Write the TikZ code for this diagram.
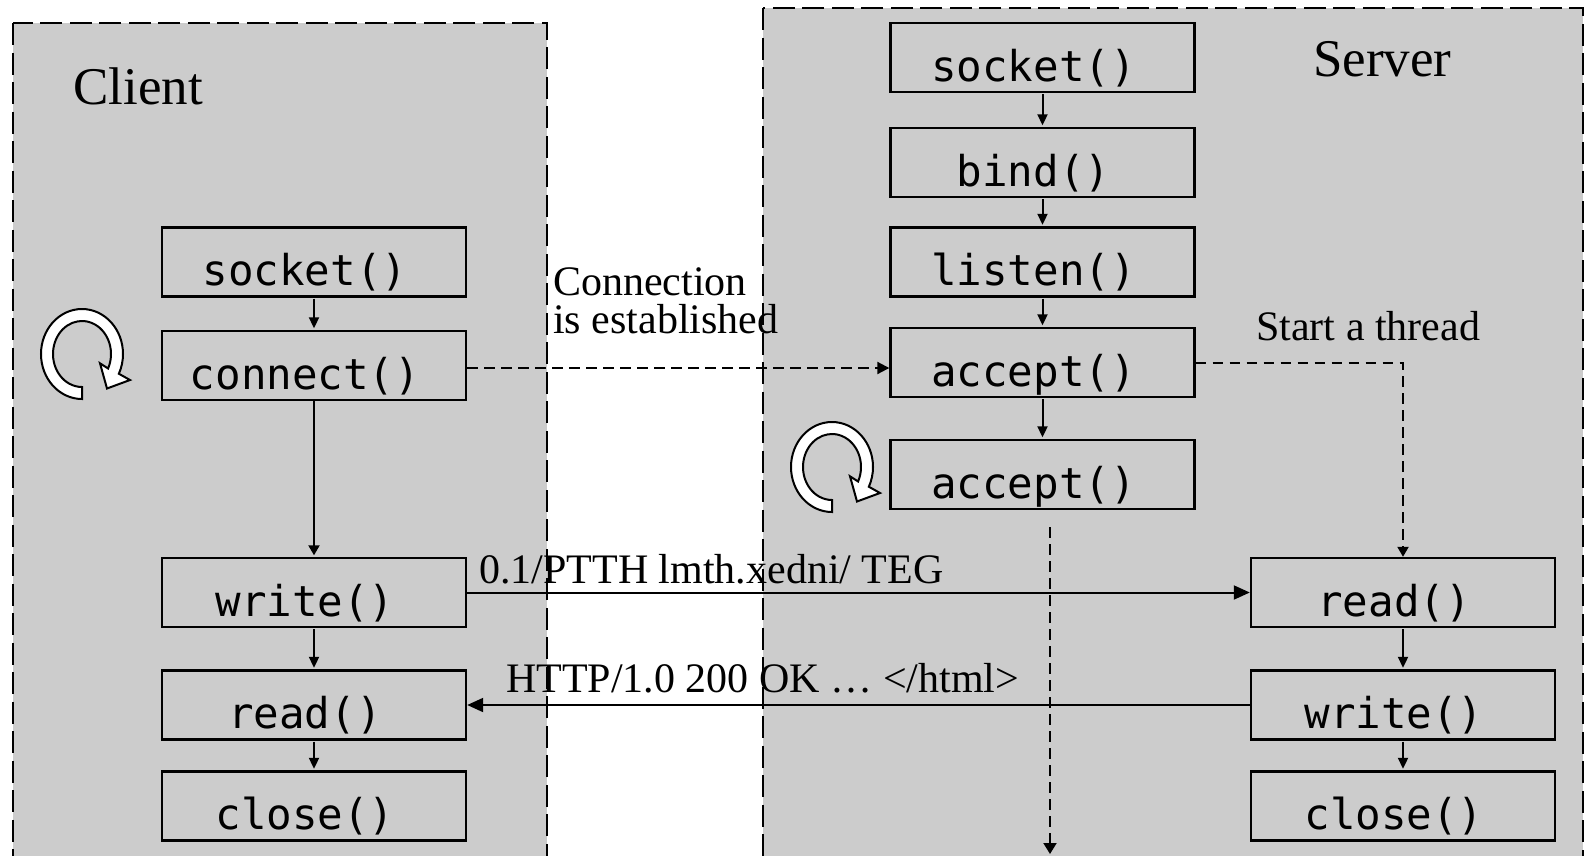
\documentclass[tikz,border=0pt]{standalone}
\usepackage{fontspec}
\setmainfont{Liberation Serif}
\newfontfamily\codefont{DejaVu Sans Mono}
\usetikzlibrary{arrows.meta}
\definecolor{panelgray}{RGB}{204,204,204}

\tikzset{
  panel/.style={fill=panelgray, draw=black, line width=2.8pt, dash pattern=on 22pt off 7.5pt},
  callbox/.style={draw=black, line width=2.4pt, minimum width=304pt, minimum height=69pt,
    inner sep=0pt, text height=58pt, text depth=11pt,
    font=\codefont\fontsize{42.5}{42.5}\selectfont,
    execute at end node={\hspace*{18pt}}},
  title/.style={anchor=base west, inner sep=0pt, font=\fontsize{53}{53}\selectfont},
  note/.style={anchor=base west, inner sep=0pt, font=\fontsize{42}{42}\selectfont},
  conn/.style={draw=black, line width=2pt},
  dconn/.style={draw=black, line width=2pt, dash pattern=on 10.5pt off 6.5pt},
  smalltip/.style={-{Triangle[length=11pt,width=10pt]}, shorten <=1pt, shorten >=1.5pt},
  bigtip/.style={-{Triangle[length=16pt,width=14pt]}},
  pics/loopsign/.style={code={
    \draw[line width=2pt, fill=white, line join=miter]
      (90:41 and 45) arc[start angle=90, end angle=386, x radius=41, y radius=45]
      -- (48,26) -- (25,34.5) -- (18,9.3)
      -- (386:29 and 33) arc[start angle=386, end angle=90, x radius=29, y radius=33]
      -- cycle;
  }}
}

\begin{document}
\begin{tikzpicture}[x=1pt,y=-1pt]
\useasboundingbox (0,0) rectangle (1587,855);
\fill[white] (0,0) rectangle (1587,855);
\clip (0,0) rectangle (1587,855);

% the two hosts
\path[panel] (13,23) rectangle (547,900);
\path[panel] (763,8) rectangle (1583,900);

\node[title] (ctitle) at (73,104) {Client};
\node[title] (stitle) at (1313,76) {Server};

% client calls
\node[callbox] (csock)  at (314,262)   {socket()};
\node[callbox] (cconn)  at (314,365.5) {connect()};
\node[callbox] (cwrite) at (314,592.5) {write()};
\node[callbox] (cread)  at (314,705)   {read()};
\node[callbox] (cclose) at (314,806)   {close()};

% server main loop
\node[callbox] (ssock)   at (1042.5,57.5)  {socket()};
\node[callbox] (sbind)   at (1042.5,162.5) {bind()};
\node[callbox] (slisten) at (1042.5,262)   {listen()};
\node[callbox] (sacc)    at (1042.5,362.5) {accept()};
\node[callbox] (sacc2)   at (1042.5,474.5) {accept()};

% worker thread
\node[callbox] (tread)  at (1403,592.5) {read()};
\node[callbox] (twrite) at (1403,705)   {write()};
\node[callbox] (tclose) at (1403,806)   {close()};

% repeat markers
\pic at (82,354) {loopsign};
\pic at (832,467) {loopsign};

% sequence arrows
\draw[conn, smalltip] (csock) -- (cconn);
\draw[conn, -{Triangle[length=10pt,width=11pt]}, shorten >=1.5pt] (cconn) -- (cwrite);
\draw[conn, smalltip] (cwrite) -- (cread);
\draw[conn, smalltip] (cread) -- (cclose);

\draw[conn, smalltip] (ssock) -- (sbind);
\draw[conn, smalltip] (sbind) -- (slisten);
\draw[conn, smalltip] (slisten) -- (sacc);
\draw[conn, smalltip] (sacc) -- (sacc2);

\draw[conn, smalltip] (tread) -- (twrite);
\draw[conn, smalltip] (twrite) -- (tclose);

% connection set-up
\coordinate (lnk) at (0,368);
\draw[dconn, -{Triangle[length=12pt,width=12pt]}] (cconn.east |- lnk) -- (sacc.west |- lnk);
\node[note] (con1) at (553,295) {Connection};
\node[note] (con2) at (553,333) {is established};

% thread start
\draw[dconn, -{Triangle[length=10pt,width=11pt]}] (sacc.east) -| (tread.north);
\node[note] (thr) at (1256,340) {Start a thread};

% server keeps accepting
\coordinate (spawnA) at (1050,527);
\coordinate (spawnB) at (1050,854);
\draw[dconn, -{Triangle[length=11pt,width=13pt]}] (spawnA) -- (spawnB);

% request and response
\draw[conn, bigtip] (cwrite) -- (tread);
\node[note] (req) at (479,583) {0.1/PTTH lmth.xedni/ TEG};
\draw[conn, bigtip] (twrite) -- (cread);
\node[note] (resp) at (506,692) {HTTP/1.0 200 OK … </html>};
\end{tikzpicture}
\end{document}
